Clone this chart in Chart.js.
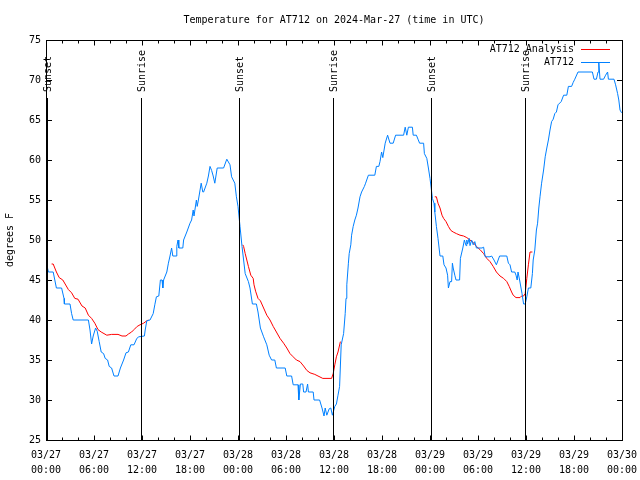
<!DOCTYPE html>
<html><head><meta charset="utf-8">
<script src="https://cdn.jsdelivr.net/npm/chart.js@4.4.1/dist/chart.umd.min.js"></script>
<style>html,body{margin:0;padding:0;background:#fff;}canvas{display:block;}</style>
</head><body>
<canvas id="c" width="640" height="480"></canvas>
<script>
const chartTitle = 'Temperature for AT712 on 2024-Mar-27 (time in UTC)';
const yAxisTitle = 'degrees F';
const seriesNames = ['AT712 Analysis', 'AT712'];
const xTickHours = [0, 6, 12, 18, 24, 30, 36, 42, 48, 54, 60, 66, 72];
const xTickDates = ['03/27','03/27','03/27','03/27','03/28','03/28','03/28','03/28','03/29','03/29','03/29','03/29','03/30'];
const xTickTimes = ['00:00','06:00','12:00','18:00','00:00','06:00','12:00','18:00','00:00','06:00','12:00','18:00','00:00'];
const eventHours = [0.125, 11.875, 24.125, 35.875, 48.125, 59.875];
const eventLabels = ['Sunset', 'Sunrise', 'Sunset', 'Sunrise', 'Sunset', 'Sunrise'];

const at712Hours = [
0.08,0.3,0.9,1.1,1.3,1.95,2.25,2.3,3.0,3.2,
3.4,5.3,5.5,5.7,5.9,6.2,6.4,6.65,6.9,7.2,
7.4,7.7,7.9,8.2,8.5,9.0,9.3,9.7,10.0,10.3,
10.6,11.0,11.35,11.6,12.3,12.4,12.6,13.0,13.4,13.6,
13.8,14.1,14.3,14.5,14.6,14.7,15.1,15.3,15.5,15.7,
15.85,16.25,16.35,16.5,16.6,17.1,17.2,17.6,18.0,18.2,
18.4,18.5,18.8,18.9,19.05,19.4,19.6,19.7,20.1,20.3,
20.5,20.7,20.9,21.1,21.4,22.2,22.6,23.0,23.2,23.6,
23.8,24.0,24.25,24.5,24.9,25.3,25.5,25.8,26.3,26.5,
26.8,27.2,27.6,27.9,28.2,28.6,28.8,29.9,30.1,30.7,
30.9,31.5,31.6,31.8,32.1,32.2,32.5,32.7,32.8,33.4,
33.5,34.2,34.5,34.75,34.9,35.1,35.4,35.6,35.8,36.1,
36.3,36.5,36.7,36.9,37.2,37.4,37.5,37.6,37.8,37.9,
38.1,38.2,38.4,38.6,38.8,39.0,39.25,39.45,39.8,39.95,
40.3,41.1,41.3,41.6,41.75,41.95,42.1,42.4,42.7,43.0,
43.4,43.7,44.7,44.9,45.1,45.3,45.8,45.9,46.3,46.5,
46.7,47.2,47.3,47.6,47.8,48.0,48.15,48.3,48.5,48.6,
48.8,49.0,49.25,49.6,49.75,50.0,50.2,50.3,50.5,50.7,
50.8,50.9,51.1,51.25,51.7,51.8,52.1,52.3,52.5,52.6,
52.7,52.9,53.0,53.2,53.4,53.6,53.8,54.5,54.7,54.9,
55.5,55.7,56.0,56.3,56.7,57.6,57.8,58.0,58.2,58.6,
58.75,58.9,59.0,59.2,59.5,59.7,59.9,60.1,60.3,60.6,
60.8,60.9,61.1,61.3,61.45,61.6,61.75,61.95,62.2,62.4,
62.6,62.8,63.0,63.2,63.4,63.6,63.8,64.0,64.4,64.7,
65.1,65.3,65.7,65.9,66.1,66.5,68.3,68.5,68.8,69.0,
69.1,69.25,69.7,69.95,70.2,70.3,71.0,71.2,71.45,71.6,
71.75,71.95
];
const at712Temps = [
47.0,46.0,46.0,45.0,44.0,44.0,42.7,42.0,42.0,40.8,
40.0,40.0,38.75,37.0,38.0,39.0,38.6,37.3,36.0,35.8,
35.2,35.0,34.2,34.0,33.0,33.0,34.0,35.0,35.9,36.0,
36.9,36.9,37.7,37.9,38.0,38.75,39.9,40.0,40.8,41.9,
42.9,43.0,45.0,45.0,44.0,45.0,46.0,47.1,48.0,49.0,
48.0,48.0,49.2,50.0,49.0,49.0,50.0,51.0,52.1,52.5,
53.75,53.0,55.0,54.2,55.0,57.1,56.0,56.0,57.1,58.0,
59.2,58.7,58.0,57.1,59.0,59.0,60.1,59.4,57.9,57.1,
55.4,54.2,51.7,49.2,45.8,44.8,44.0,42.0,42.0,41.0,
39.0,37.9,36.9,35.6,35.0,35.0,34.0,34.0,33.0,33.0,
31.9,31.9,30.0,32.0,32.0,31.0,31.0,32.0,31.0,31.0,
30.0,30.0,29.0,28.0,29.0,28.1,28.9,29.0,28.1,29.2,
29.5,30.6,31.7,36.9,38.3,40.8,42.7,44.4,47.1,48.3,
49.4,50.6,51.7,52.5,53.1,54.0,55.4,56.0,56.7,57.1,
58.1,58.1,59.2,59.2,59.8,61.0,60.3,62.1,63.1,62.1,
62.1,63.1,63.1,64.1,63.1,64.1,64.1,63.1,63.1,62.6,
62.1,62.1,60.8,60.2,59.0,57.7,56.5,55.2,54.6,53.5,
51.7,50.2,48.0,48.0,46.9,46.5,45.6,44.0,44.8,44.8,
47.1,46.5,45.6,45.0,45.0,47.7,49.0,50.0,49.3,50.0,
49.5,50.2,49.3,50.0,49.4,49.8,49.0,49.0,49.1,47.9,
47.9,48.0,47.5,46.9,48.0,48.0,47.1,46.9,46.0,46.0,
45.6,45.0,46.0,45.0,43.3,42.0,42.0,42.9,44.0,44.0,
45.8,47.5,48.75,51.25,52.1,54.0,55.4,57.1,58.75,60.4,
61.5,62.5,63.75,64.8,65.1,65.8,66.0,66.9,67.3,68.1,
68.1,69.2,69.2,69.7,70.1,71.0,71.0,70.1,70.1,71.0,
72.2,70.1,70.1,70.6,71.0,70.1,70.1,69.4,68.3,67.5,
66.25,65.9
];

const analysisHours = [
0.7,0.9,1.3,1.65,2.1,2.8,3.2,3.6,4.0,4.5,
4.9,5.3,5.7,6.1,6.5,6.9,7.6,8.2,9.0,9.5,
10.0,10.3,10.7,11.0,11.4,11.75,12.2,12.6,12.8,18,
24.6,24.7,24.9,25.1,25.3,25.6,25.9,26.0,26.2,26.5,
26.8,27.2,27.6,28.0,28.4,28.8,29.25,29.7,30.1,30.5,
30.9,31.3,31.75,32.2,32.6,33.0,33.6,34.0,34.6,35.7,
35.9,36.1,36.3,36.5,36.8,42,
48.6,48.8,49.0,49.25,49.5,49.7,50.0,50.3,50.6,50.9,
51.3,51.75,52.2,52.6,53.0,53.4,53.8,54.25,54.7,55.1,
55.5,55.9,56.3,56.75,57.2,57.6,57.9,58.2,58.4,58.75,
59.25,59.45,59.7,59.9,60.1,60.3,60.5,60.8
];
const analysisTemps = [
47.0,47.0,46.0,45.3,45.0,43.8,43.4,42.7,42.6,41.75,
41.5,40.6,40.2,39.6,38.8,38.5,38.1,38.2,38.2,38.0,
38.0,38.25,38.5,38.8,39.2,39.4,39.6,39.9,40.0,null,
49.4,49.2,48.3,47.5,46.7,45.6,45.2,44.4,43.6,42.7,
42.4,41.5,40.6,40.0,39.2,38.5,37.7,37.1,36.5,35.8,
35.4,35.0,34.8,34.25,33.7,33.4,33.2,33.0,32.7,32.7,
33.3,34.4,35.4,36.0,37.3,null,
55.4,55.4,54.6,54.0,53.1,52.7,52.3,51.7,51.2,51.0,
50.8,50.6,50.5,50.3,50.0,49.7,49.2,48.8,48.3,47.7,
47.3,46.7,46.0,45.5,45.2,44.8,44.2,43.5,43.1,42.8,
42.8,43.0,43.0,43.3,45.2,46.9,48.5,48.5
];

const FONT = "'DejaVu Sans Mono', 'Liberation Mono', monospace";
const RED = '#ff0000';
const BLUE = '#0080ff';
const toPoints = (xs, ys) => xs.map((x, i) => ({x: x, y: ys[i]}));

const decor = {
  id: 'decor',
  beforeDraw(chart) {
    const c = chart.ctx;
    c.save(); c.fillStyle = '#fff'; c.fillRect(0, 0, chart.width, chart.height); c.restore();
  },
  afterDatasetsDraw(chart) {
    const c = chart.ctx, a = chart.chartArea, xs = chart.scales.x, ys = chart.scales.y;
    c.save();
    c.strokeStyle = '#000'; c.lineWidth = 1; c.fillStyle = '#000';
    c.font = '10px ' + FONT;
    eventHours.forEach((h, i) => {
      const px = Math.round(xs.getPixelForValue(h)) + 0.5;
      c.beginPath(); c.moveTo(px, a.top + 58); c.lineTo(px, a.bottom); c.stroke();
      c.save();
      c.translate(px + 1, a.top + 52);
      c.rotate(-Math.PI / 2);
      c.textAlign = 'left'; c.textBaseline = 'middle';
      c.fillText(eventLabels[i], 0, 0);
      c.restore();
    });
    c.strokeRect(a.left + 0.5, a.top + 0.5, a.right - a.left, a.bottom - a.top);
    for (let h = 0; h <= 72; h += 2) {
      const px = Math.round(xs.getPixelForValue(h)) + 0.5;
      const len = (h % 6 === 0) ? 5 : 3;
      c.beginPath();
      c.moveTo(px, a.bottom + 0.5); c.lineTo(px, a.bottom + 0.5 - len);
      c.moveTo(px, a.top + 0.5); c.lineTo(px, a.top + 0.5 + len);
      c.stroke();
    }
    for (let v = 25; v <= 75; v += 5) {
      const py = Math.round(ys.getPixelForValue(v)) + 0.5;
      c.beginPath();
      c.moveTo(a.left, py); c.lineTo(a.left + 6, py);
      c.moveTo(a.right + 1, py); c.lineTo(a.right - 5, py);
      c.stroke();
    }
    c.textAlign = 'right'; c.textBaseline = 'middle';
    const rows = [{name: seriesNames[0], color: RED, y: 49.5}, {name: seriesNames[1], color: BLUE, y: 62.5}];
    rows.forEach(r => {
      c.fillStyle = '#000';
      c.fillText(r.name, 574, r.y);
      c.strokeStyle = r.color;
      c.beginPath(); c.moveTo(581, r.y); c.lineTo(610, r.y); c.stroke();
    });
    c.fillStyle = '#000'; c.textAlign = 'center'; c.textBaseline = 'middle';
    c.fillText(chartTitle, (a.left + a.right) / 2, 20);
    c.restore();
  }
};

new Chart(document.getElementById('c').getContext('2d'), {
  type: 'line',
  data: {
    datasets: [
      {label: seriesNames[1], data: toPoints(at712Hours, at712Temps), borderColor: BLUE, borderWidth: 1, pointRadius: 0, tension: 0, fill: false},
      {label: seriesNames[0], data: toPoints(analysisHours, analysisTemps), borderColor: RED, borderWidth: 1, pointRadius: 0, tension: 0, fill: false, spanGaps: false}
    ]
  },
  options: {
    responsive: false, animation: false, devicePixelRatio: 1,
    layout: {padding: {top: 40, right: 18, left: 0, bottom: 0}},
    plugins: {legend: {display: false}, title: {display: false}, tooltip: {enabled: false}},
    events: [],
    scales: {
      x: {
        type: 'linear', min: 0, max: 72,
        afterFit: s => { s.height = 40; s.paddingLeft = 0; s.paddingRight = 0; },
        afterBuildTicks: s => { s.ticks = xTickHours.map(v => ({value: v})); },
        ticks: {
          autoSkip: false, maxRotation: 0, minRotation: 0, padding: 7.5, color: '#000',
          font: {family: FONT, size: 10, lineHeight: 1.5},
          callback: v => { const i = xTickHours.indexOf(v); return i >= 0 ? [xTickDates[i], xTickTimes[i]] : ''; }
        },
        grid: {display: false, drawTicks: false}, border: {display: false}
      },
      y: {
        min: 25, max: 75,
        afterFit: s => { s.width = 46; s.paddingTop = 0; s.paddingBottom = 0; },
        ticks: {stepSize: 5, padding: 5, color: '#000', font: {family: FONT, size: 10}},
        grid: {display: false, drawTicks: false}, border: {display: false},
        title: {display: true, text: yAxisTitle, color: '#000', font: {family: FONT, size: 10}, padding: {top: 4, bottom: 4}}
      }
    }
  },
  plugins: [decor]
});
</script>
</body></html>
